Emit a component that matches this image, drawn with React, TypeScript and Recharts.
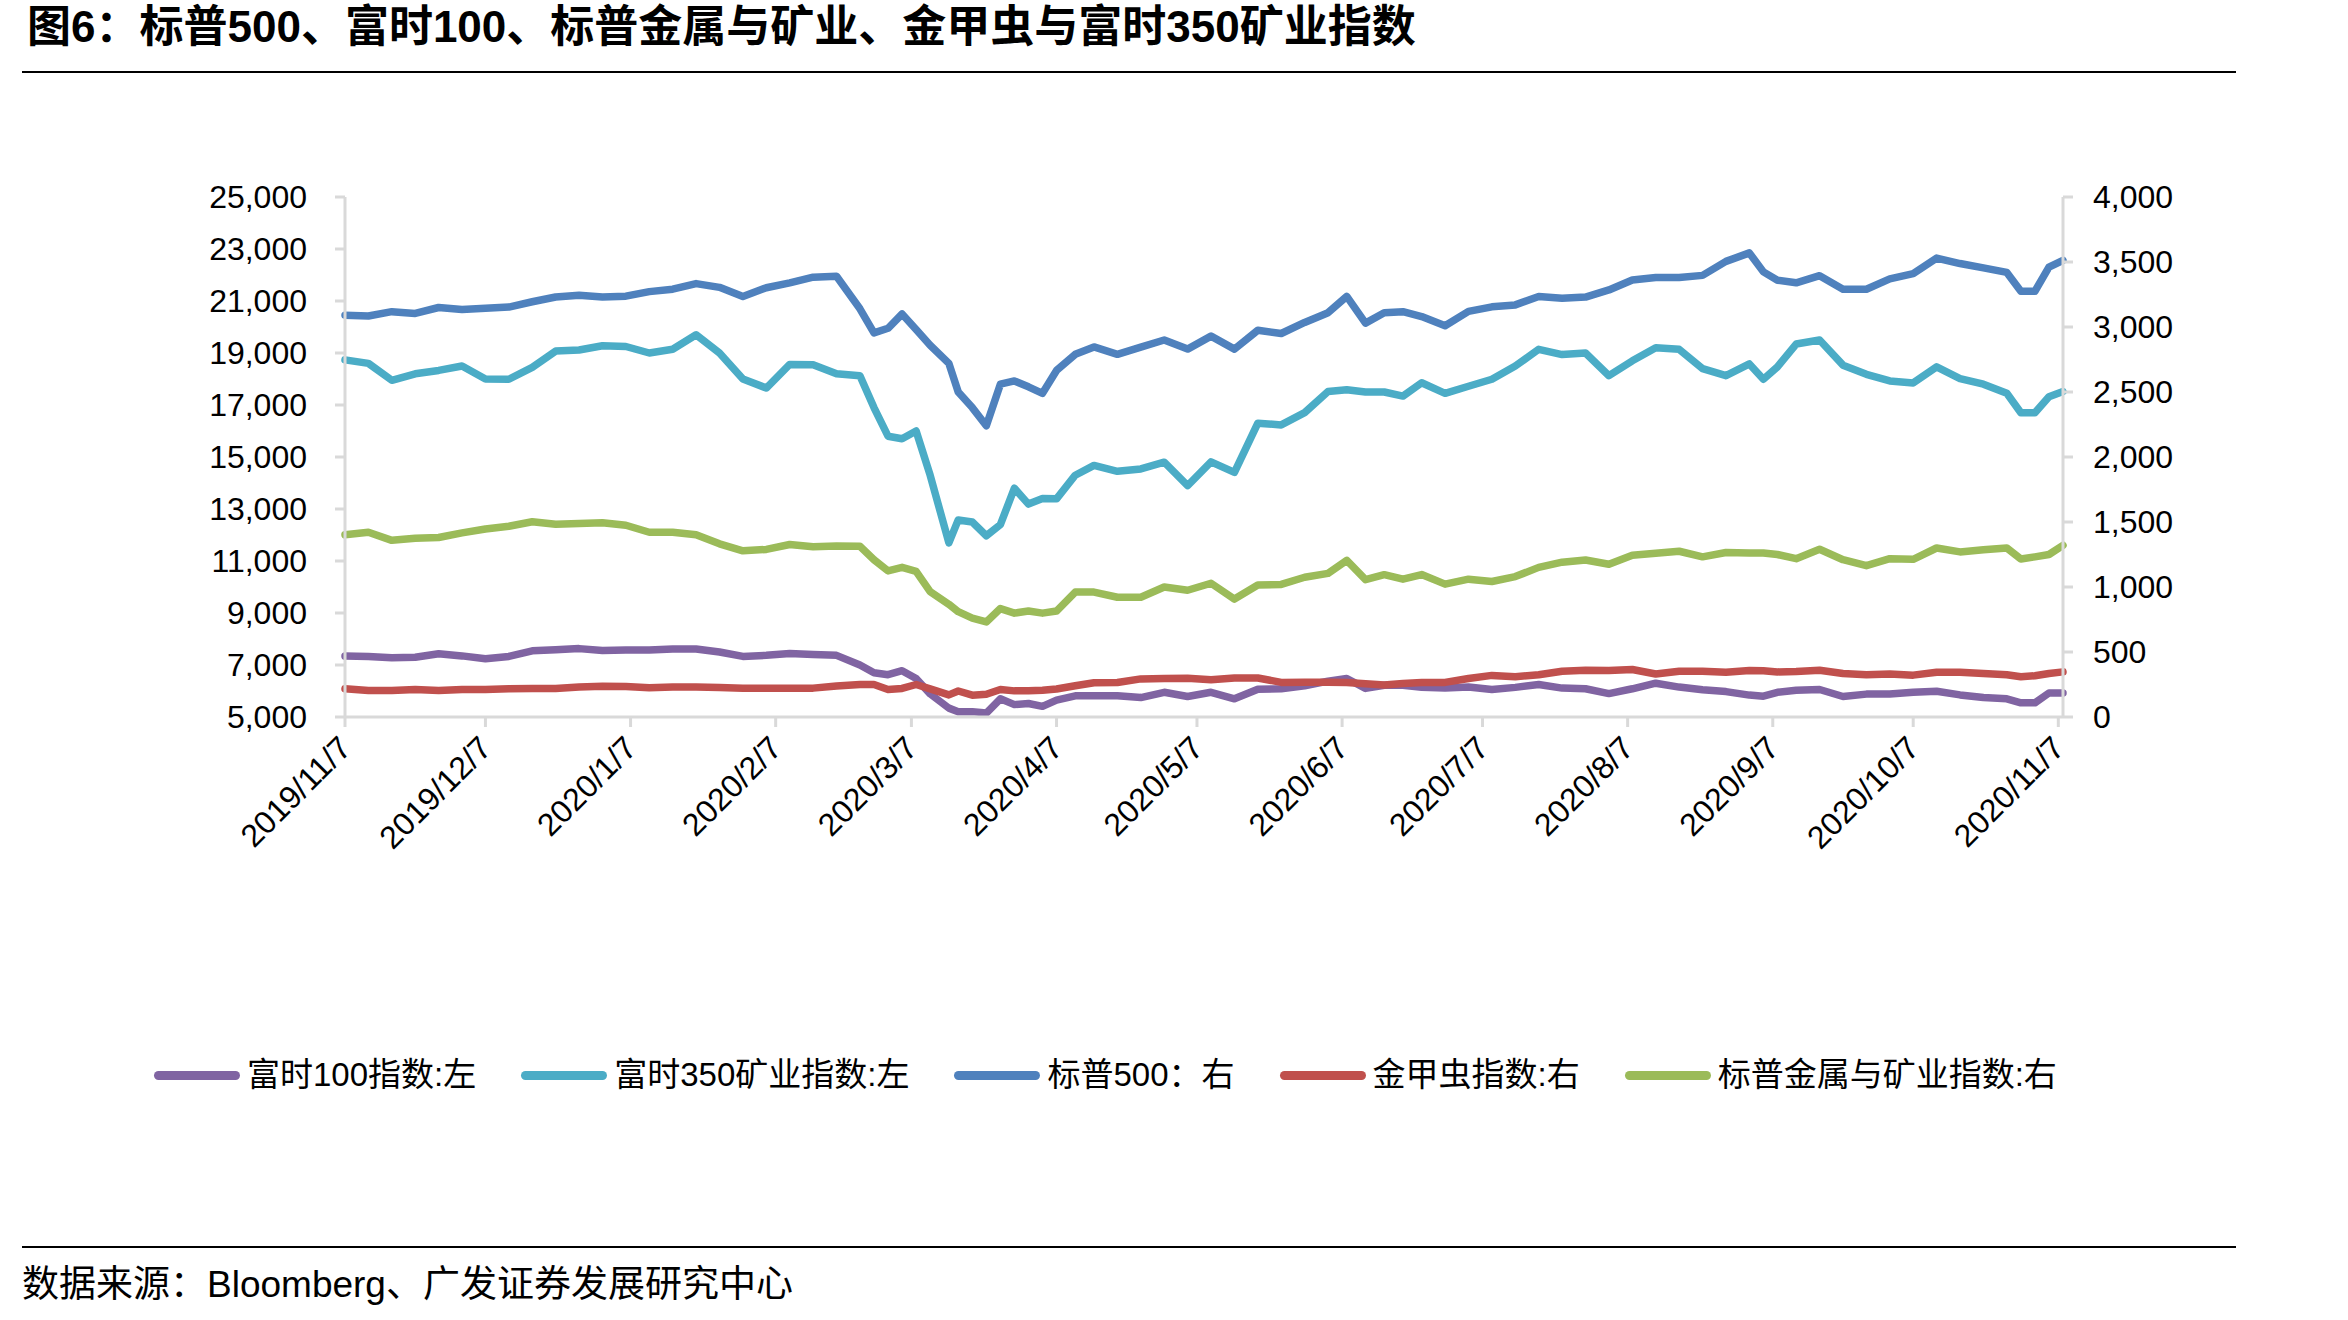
import React from 'react';
import { LineChart, Line, XAxis, YAxis } from 'recharts';

// day offsets from 2019/11/7
const days = [
  0, 5, 10, 15, 20, 25, 30, 35, 40, 45, 50, 55, 60, 65, 70, 75, 80, 85, 90, 95, 100, 105, 110,
  113, 116, 119, 122, 125, 129, 131, 134, 137, 140, 143, 146, 149, 152,
  156, 160,
  165, 170, 175, 180, 185, 190, 195, 200, 205, 210,
  214, 218, 222, 226, 230,
  235, 240, 245, 250, 255, 260, 265, 270, 275, 280, 285, 290, 295, 300,
  303, 306,
  310, 315, 320, 325, 330, 335, 340, 345, 350, 355,
  358, 361, 364, 367,
];

// 富时100指数 (left)
const ftse100 = [
  7343, 7330, 7276, 7300, 7430, 7350, 7240, 7330, 7546, 7590, 7630, 7560, 7573, 7573, 7614, 7614, 7500, 7330, 7371, 7438, 7400, 7371, 7000,
  6700, 6627, 6780, 6480, 5890, 5341, 5206, 5206, 5150, 5700, 5476, 5520, 5409, 5650,
  5815, 5815,
  5815, 5747, 5950, 5788, 5950, 5700, 6070, 6085, 6200, 6380,
  6480, 6100, 6220, 6220, 6140,
  6112, 6150, 6058, 6140, 6250, 6112, 6085, 5900, 6085, 6300, 6150, 6050, 5977, 5842,
  5800, 5950,
  6030, 6058, 5788, 5880, 5882, 5950, 5990, 5850, 5747, 5700,
  5544, 5544, 5923, 5923,
];

// 富时350矿业指数 (left)
const ftse350Mining = [
  18736, 18600, 17950, 18200, 18330, 18500, 18000, 17991, 18450, 19074, 19115, 19277, 19250, 19000, 19142, 19700, 19000, 18000, 17653, 18560, 18550, 18200, 18127,
  16900, 15800, 15700, 16000, 14300, 11700, 12580, 12500, 11971, 12400, 13800, 13188, 13400, 13391,
  14300, 14677,
  14450, 14541, 14800, 13900, 14812, 14406, 16300, 16233, 16706, 17518,
  17586, 17500, 17500, 17342, 17856,
  17450, 17721, 17991, 18500, 19142, 18939, 19000, 18127, 18700, 19200, 19142, 18397, 18127, 18580,
  17991, 18465,
  19345, 19500, 18533, 18180, 17924, 17850, 18465, 18018, 17800, 17450,
  16700, 16700, 17315, 17518,
];

// 标普500 (right)
const sp500 = [
  3091, 3085, 3118, 3104, 3150, 3134, 3145, 3153, 3194, 3231, 3245, 3231, 3237, 3272, 3291, 3334, 3305, 3235, 3302, 3340, 3383, 3390, 3140,
  2955, 2990, 3100, 2980, 2860, 2720, 2500, 2380, 2240, 2560, 2585, 2540, 2490, 2666,
  2790, 2847,
  2790, 2845, 2900, 2830, 2930, 2830, 2975, 2950, 3035, 3110,
  3235, 3030, 3110, 3118, 3080,
  3010, 3120, 3155, 3170, 3234, 3221, 3230, 3285, 3362, 3380, 3380, 3397, 3505, 3570,
  3424, 3360,
  3340, 3395, 3290, 3290, 3370, 3410, 3530, 3488, 3455, 3420,
  3275, 3275, 3460, 3513,
];

// 金甲虫指数 (right)
const goldBugs = [
  217, 203, 203, 212, 203, 212, 212, 217, 219, 220, 231, 236, 235, 225, 230, 231, 226, 222, 222, 222, 222, 239, 250,
  250, 212, 220, 250, 217, 170, 200, 168, 175, 212, 201, 201, 205, 215,
  240, 263,
  265, 293, 296, 298, 287, 300, 300, 266, 268, 268,
  266, 255, 246, 258, 265,
  266, 296, 320, 310, 325, 352, 360, 358, 365, 331, 352, 352, 344, 358,
  355, 347,
  350, 360, 335, 325, 330, 322, 344, 344, 335, 325,
  310, 317, 335, 347,
];

// 标普金属与矿业指数 (right)
const spMetalsMining = [
  1402, 1421, 1359, 1375, 1381, 1416, 1446, 1467, 1502, 1483, 1489, 1494, 1475, 1421, 1421, 1402, 1332, 1278, 1289, 1327, 1310, 1315, 1313,
  1210, 1124, 1151, 1120, 965, 867, 810, 760, 731, 834, 799, 815, 799, 815,
  961, 961,
  921, 921, 1000, 975, 1029, 907, 1015, 1020, 1075, 1105,
  1205, 1056, 1095, 1060, 1096,
  1022, 1060, 1042, 1080, 1151, 1191, 1208, 1175, 1245, 1259, 1275, 1232, 1265, 1262,
  1262, 1250,
  1218, 1290, 1210, 1164, 1218, 1213, 1300, 1270, 1286, 1300,
  1215, 1232, 1250, 1321,
];

const xTickDays = [0, 30, 61, 92, 121, 152, 182, 213, 243, 274, 305, 335, 366];
const xTickLabels = [
  '2019/11/7', '2019/12/7', '2020/1/7', '2020/2/7', '2020/3/7', '2020/4/7', '2020/5/7',
  '2020/6/7', '2020/7/7', '2020/8/7', '2020/9/7', '2020/10/7', '2020/11/7',
];
const leftTicks = [5000, 7000, 9000, 11000, 13000, 15000, 17000, 19000, 21000, 23000, 25000];
const rightTicks = [0, 500, 1000, 1500, 2000, 2500, 3000, 3500, 4000];

const seriesKeys = ['ftse100', 'ftse350', 'sp500', 'hui', 'spmm'];
const seriesNames = ['富时100指数:左', '富时350矿业指数:左', '标普500：右', '金甲虫指数:右', '标普金属与矿业指数:右'];
const seriesAxis = ['left', 'left', 'right', 'right', 'right'];
const seriesColors = ['#8064A2', '#4BACC6', '#4F81BD', '#C0504D', '#9BBB59'];
const seriesValues = [ftse100, ftse350Mining, sp500, goldBugs, spMetalsMining];

const data = days.map((d, i) => {
  const row: Record<string, number> = { day: d };
  seriesKeys.forEach((k, j) => {
    row[k] = seriesValues[j][i];
  });
  return row;
});

const FONT = '"Liberation Sans", Arial, "Noto Sans CJK SC", sans-serif';
const AXIS_GRAY = '#D9D9D9';

const fmt = (v: number) => v.toLocaleString('en-US');

const XTick = (props: any) => {
  const { x, y, payload } = props;
  const idx = xTickDays.indexOf(payload.value);
  const label = idx >= 0 ? xTickLabels[idx] : String(payload.value);
  const ax = x + 8;
  const ay = y + 23;
  return (
    <text
      x={ax}
      y={ay}
      transform={`rotate(-45, ${ax}, ${ay})`}
      textAnchor="end"
      fontSize={32}
      fontFamily={FONT}
      fill="#000"
    >
      {label}
    </text>
  );
};

export default function App() {
  return (
    <div
      style={{
        position: 'absolute',
        left: 0,
        top: 0,
        width: 2348,
        height: 1320,
        background: '#fff',
        overflow: 'hidden',
        fontFamily: FONT,
      }}
    >
      <div
        style={{
          position: 'absolute',
          left: 27,
          top: 3,
          fontSize: 44,
          lineHeight: '48px',
          fontWeight: 'bold',
          color: '#000',
          whiteSpace: 'nowrap',
          fontFamily: '"Liberation Sans", "Noto Sans CJK SC", sans-serif',
        }}
      >
        图6：标普500、富时100、标普金属与矿业、金甲虫与富时350矿业指数
      </div>
      <div style={{ position: 'absolute', left: 22, top: 71, width: 2214, height: 2, background: '#000' }} />

      <div style={{ position: 'absolute', left: 0, top: 0 }}>
        <LineChart width={2348} height={900} data={data} margin={{ top: 197, right: 0, bottom: 0, left: 0 }}>
          <XAxis
            dataKey="day"
            type="number"
            domain={[0, 367]}
            ticks={xTickDays}
            interval={0}
            height={183}
            tick={<XTick />}
            tickSize={10}
            tickMargin={0}
            axisLine={{ stroke: AXIS_GRAY, strokeWidth: 3 }}
            tickLine={{ stroke: AXIS_GRAY, strokeWidth: 3 }}
          />
          <YAxis
            yAxisId="left"
            orientation="left"
            width={345}
            domain={[5000, 25000]}
            ticks={leftTicks}
            interval={0}
            tickFormatter={fmt}
            tickSize={10}
            tickMargin={28}
            tick={{ fontSize: 32, fill: '#000', fontFamily: FONT }}
            axisLine={{ stroke: AXIS_GRAY, strokeWidth: 3 }}
            tickLine={{ stroke: AXIS_GRAY, strokeWidth: 3 }}
          />
          <YAxis
            yAxisId="right"
            orientation="right"
            width={285}
            domain={[0, 4000]}
            ticks={rightTicks}
            interval={0}
            tickFormatter={fmt}
            tickSize={10}
            tickMargin={20}
            tick={{ fontSize: 32, fill: '#000', fontFamily: FONT, textAnchor: 'start' }}
            axisLine={{ stroke: AXIS_GRAY, strokeWidth: 3 }}
            tickLine={{ stroke: AXIS_GRAY, strokeWidth: 3 }}
          />
          {seriesKeys.map((k, j) => (
            <Line
              key={k}
              type="linear"
              dataKey={k}
              name={seriesNames[j]}
              yAxisId={seriesAxis[j]}
              stroke={seriesColors[j]}
              strokeWidth={7.5}
              strokeLinejoin="round"
              strokeLinecap="round"
              dot={false}
              activeDot={false}
              isAnimationActive={false}
            />
          ))}
        </LineChart>
      </div>

      <div
        style={{
          position: 'absolute',
          left: 154,
          top: 1055,
          height: 40,
          display: 'flex',
          alignItems: 'center',
          gap: 45,
          whiteSpace: 'nowrap',
        }}
      >
        {seriesNames.map((n, j) => (
          <div key={n} style={{ display: 'flex', alignItems: 'center' }}>
            <div style={{ width: 86, height: 9, borderRadius: 4.5, background: seriesColors[j] }} />
            <span style={{ marginLeft: 7, fontSize: 33, color: '#000', lineHeight: '40px' }}>{n}</span>
          </div>
        ))}
      </div>

      <div style={{ position: 'absolute', left: 22, top: 1246, width: 2214, height: 2, background: '#000' }} />
      <div
        style={{
          position: 'absolute',
          left: 22,
          top: 1263,
          fontSize: 37,
          lineHeight: '44px',
          color: '#000',
          whiteSpace: 'nowrap',
        }}
      >
        数据来源：Bloomberg、广发证券发展研究中心
      </div>
    </div>
  );
}
